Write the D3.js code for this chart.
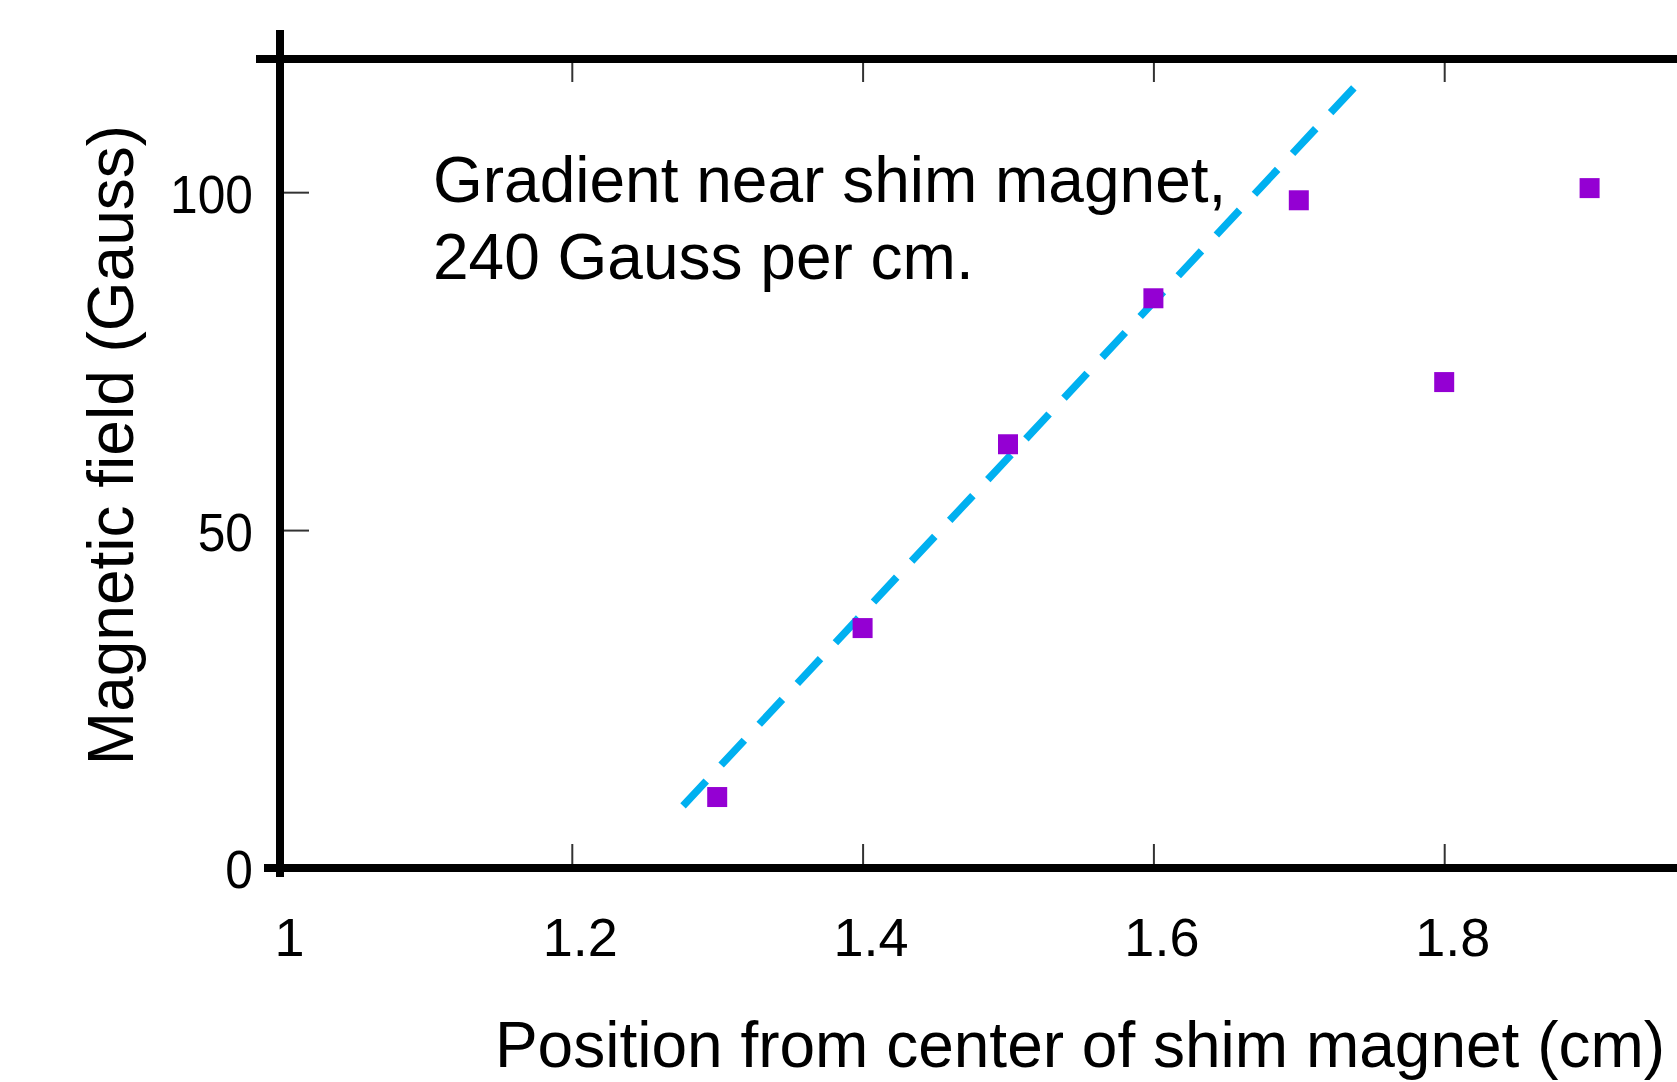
<!DOCTYPE html>
<html>
<head>
<meta charset="utf-8">
<script src="https://cdn.jsdelivr.net/npm/d3@7"></script>
<style>
  body { margin: 0; background: #fff; }
  text { font-family: "Liberation Sans", Arial, sans-serif; fill: #000; }
</style>
</head>
<body>
<script>
const WIDTH = 1677
const HEIGHT = 1082

// measured data
const positions = [1.3, 1.4, 1.5, 1.6, 1.7, 1.8, 1.9]
const fields = [10.5, 35.5, 62.7, 84.3, 98.8, 71.9, 100.6]
const fitX = [1.2765, 1.739]
const fitY = [9.2, 115.7]
const xTicks = [1, 1.2, 1.4, 1.6, 1.8]
const yTicks = [0, 50, 100]

const FRAME_TOP = 59

const svg = d3.select('body')
    .append('svg')
    .attr('width', WIDTH)
    .attr('height', HEIGHT)

const x = d3.scaleLinear()
    .domain([1, 2])
    .range([281, 1735])

const y = d3.scaleLinear()
    .domain([0, 120])
    .range([868, 57])

// ticks and labels
const gBottom = svg.append('g')
    .attr('transform', `translate(0, ${y(0)})`)
    .call(d3.axisBottom(x)
        .tickValues(xTicks)
        .tickSize(-24)
        .tickPadding(50)
        .tickFormat(d => `${d}`))

gBottom.selectAll('text')
    .attr('dx', 8)
    .style('font-size', '54px')

const gTop = svg.append('g')
    .attr('transform', `translate(0, ${FRAME_TOP})`)
    .call(d3.axisTop(x)
        .tickValues(xTicks.slice(1))
        .tickSize(-23)
        .tickFormat(''))

const gLeft = svg.append('g')
    .attr('transform', `translate(${x(1) - 1}, 0)`)
    .call(d3.axisLeft(y)
        .tickValues(yTicks)
        .tickSize(-29)
        .tickPadding(27)
        .tickFormat(d => `${d}`))

gLeft.selectAll('text')
    .attr('dy', '0.37em')
    .style('font-size', '54px')
    .each(function () {
        // the reference digits are a little narrow
        const w = this.getComputedTextLength()
        d3.select(this)
            .attr('textLength', w * 0.92)
            .attr('lengthAdjust', 'spacingAndGlyphs')
    })

svg.selectAll('.domain').remove()
svg.selectAll('.tick line')
    .attr('stroke', '#333')
    .attr('stroke-width', 2)

// frame lines
const frame = svg.append('g')
    .attr('stroke', '#000')
    .attr('stroke-width', 8)

frame.append('line')
    .attr('x1', x(1) - 1).attr('x2', x(1) - 1)
    .attr('y1', 30).attr('y2', 877)

frame.append('line')
    .attr('x1', 256).attr('x2', WIDTH)
    .attr('y1', FRAME_TOP).attr('y2', FRAME_TOP)

frame.append('line')
    .attr('x1', 264).attr('x2', WIDTH)
    .attr('y1', y(0)).attr('y2', y(0))

// fit line
const fitLine = d3.line()
    .x(d => x(d[0]))
    .y(d => y(d[1]))

svg.append('path')
    .datum(d3.zip(fitX, fitY))
    .attr('d', fitLine)
    .attr('fill', 'none')
    .attr('stroke', '#00b0f0')
    .attr('stroke-width', 7.5)
    .attr('stroke-dasharray', '34,21.8')

// data points
svg.selectAll('.pt')
    .data(d3.zip(positions, fields))
    .enter()
    .append('path')
    .attr('class', 'pt')
    .attr('d', d3.symbol(d3.symbolSquare, 400))
    .attr('transform', d => `translate(${x(d[0])}, ${y(d[1])})`)
    .attr('fill', '#9400d3')

// annotation
const note = svg.append('text')
    .attr('x', 433)
    .style('font-size', '64px')

note.append('tspan').attr('x', 433).attr('y', 202).text('Gradient near shim magnet,')
note.append('tspan').attr('x', 433).attr('y', 279).text('240 Gauss per cm.')

// axis titles
svg.append('text')
    .attr('x', 1080)
    .attr('y', 1067)
    .attr('text-anchor', 'middle')
    .style('font-size', '64px')
    .text('Position from center of shim magnet (cm)')

svg.append('text')
    .attr('transform', 'translate(133, 445) rotate(-90)')
    .attr('text-anchor', 'middle')
    .style('font-size', '64px')
    .text('Magnetic field (Gauss)')
</script>
</body>
</html>
